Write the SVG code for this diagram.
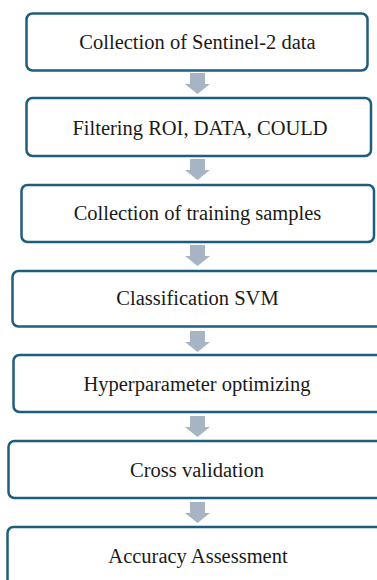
<svg xmlns="http://www.w3.org/2000/svg" width="377" height="580" viewBox="0 0 377 580">
<defs>
<style>
.box{fill:#ffffff;stroke:#1f5d7d;stroke-width:2.5}
.lbl{font-family:"Liberation Serif","Times New Roman",serif;font-size:20.5px;fill:#1a1a1a;text-anchor:middle}
.arr{fill:#a6b4c3}
</style>
<path id="down" class="arr" d="M-7.5,0 H7.5 V11 H12.5 L0,21 L-12.5,11 H-7.5 Z"/>
</defs>
<rect width="377" height="580" fill="#ffffff"/>
<g id="connectors">
<use href="#down" x="197.5" y="73"/>
<use href="#down" x="197.5" y="159"/>
<use href="#down" x="197.5" y="245"/>
<use href="#down" x="197.5" y="331"/>
<use href="#down" x="197.5" y="416"/>
<use href="#down" x="197.5" y="502"/>
</g>
<g id="n1"><rect class="box" x="26.5" y="13.5" width="341" height="57" rx="6"/><text class="lbl" x="197.5" y="48.5">Collection of Sentinel-2 data</text></g>
<g id="n2"><rect class="box" x="26.5" y="98" width="344.5" height="58" rx="6"/><text class="lbl" x="200" y="134.5">Filtering ROI, DATA, COULD</text></g>
<g id="n3"><rect class="box" x="21.5" y="185" width="352.5" height="57" rx="6"/><text class="lbl" x="197.5" y="219.5">Collection of training samples</text></g>
<g id="n4"><rect class="box" x="12.5" y="271" width="372" height="55.5" rx="6"/><text class="lbl" x="197.5" y="305">Classification SVM</text></g>
<g id="n5"><rect class="box" x="13.5" y="355" width="372" height="57" rx="6"/><text class="lbl" x="197" y="391">Hyperparameter optimizing</text></g>
<g id="n6"><rect class="box" x="8.5" y="441" width="380" height="57" rx="6"/><text class="lbl" x="197" y="476.5">Cross validation</text></g>
<g id="n7"><rect class="box" x="7.5" y="527" width="380" height="65" rx="6"/><text class="lbl" x="198" y="563">Accuracy Assessment</text></g>
</svg>
